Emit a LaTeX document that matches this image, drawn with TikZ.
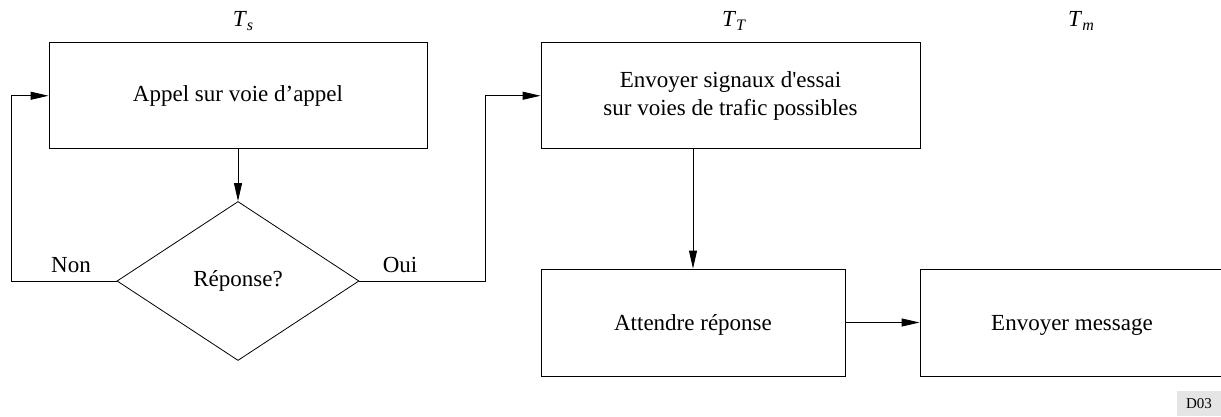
\documentclass[tikz,border=0pt]{standalone}
\usepackage{fontspec}
\setmainfont{Liberation Serif}[Ligatures=TeXOff]
\usetikzlibrary{arrows.meta,shapes.geometric}
\begin{document}
\begin{tikzpicture}[x=1pt,y=-1pt,
  every node/.style={font=\fontsize{23}{28}\selectfont},
  boxnode/.style={draw,line width=0.9pt,inner sep=0pt,minimum height=106pt,align=center},
  lowtext/.style={text height=18pt,text depth=2pt},
  decision/.style={draw,diamond,line width=0.8pt,inner sep=0pt,minimum width=242pt,minimum height=159pt},
  conn/.style={line width=0.9pt},
  arr/.style={conn,-{Triangle[length=18pt,width=8pt]}},
  lbl/.style={anchor=base,inner sep=0pt},
  tag/.style={fill=black!10,inner sep=0pt,minimum width=44pt,minimum height=25pt,font=\fontsize{15}{15}\selectfont}]
\useasboundingbox (0,0) rectangle (1221,416);
\node[boxnode,minimum width=378pt] (b1) at (238,95.75) {Appel sur voie d’appel};
\node[boxnode,minimum width=379pt] (b2) at (730.5,95.75) {Envoyer signaux d'essai\\sur voies de trafic possibles};
\node[boxnode,lowtext,minimum width=304pt,minimum height=107pt] (b3) at (693,322.5) {Attendre réponse};
\node[boxnode,lowtext,minimum width=304pt,minimum height=107pt] (b4) at (1072,322.5) {Envoyer message};
\node[decision] (d) at (238,281) {Réponse?};
\node[lbl] (ts) at (243,26) {\textit{T}\raisebox{-4pt}{\fontsize{16}{16}\selectfont\textit{s}}};
\node[lbl] (tt) at (734,26) {\textit{T}\raisebox{-4pt}{\fontsize{16}{16}\selectfont\textit{T}}};
\node[lbl] (tm) at (1081,26) {\textit{T}\raisebox{-4pt}{\fontsize{16}{16}\selectfont\textit{m}}};
\node[lbl] (non) at (71,272) {Non};
\node[lbl] (oui) at (400,272) {Oui};
\node[tag] (d03) at (1199,403.5) {D03};
\coordinate (nl) at (11,281);
\coordinate (or) at (485,281);
\draw[arr] (b1.south) -- (d.north);
\draw[arr] (d.west) -- (nl) |- (b1.west);
\draw[arr] (d.east) -- (or) |- (b2.west);
\draw[arr] (b3.north |- b2.south) -- (b3.north);
\draw[arr] (b3.east) -- (b4.west);
\end{tikzpicture}
\end{document}
